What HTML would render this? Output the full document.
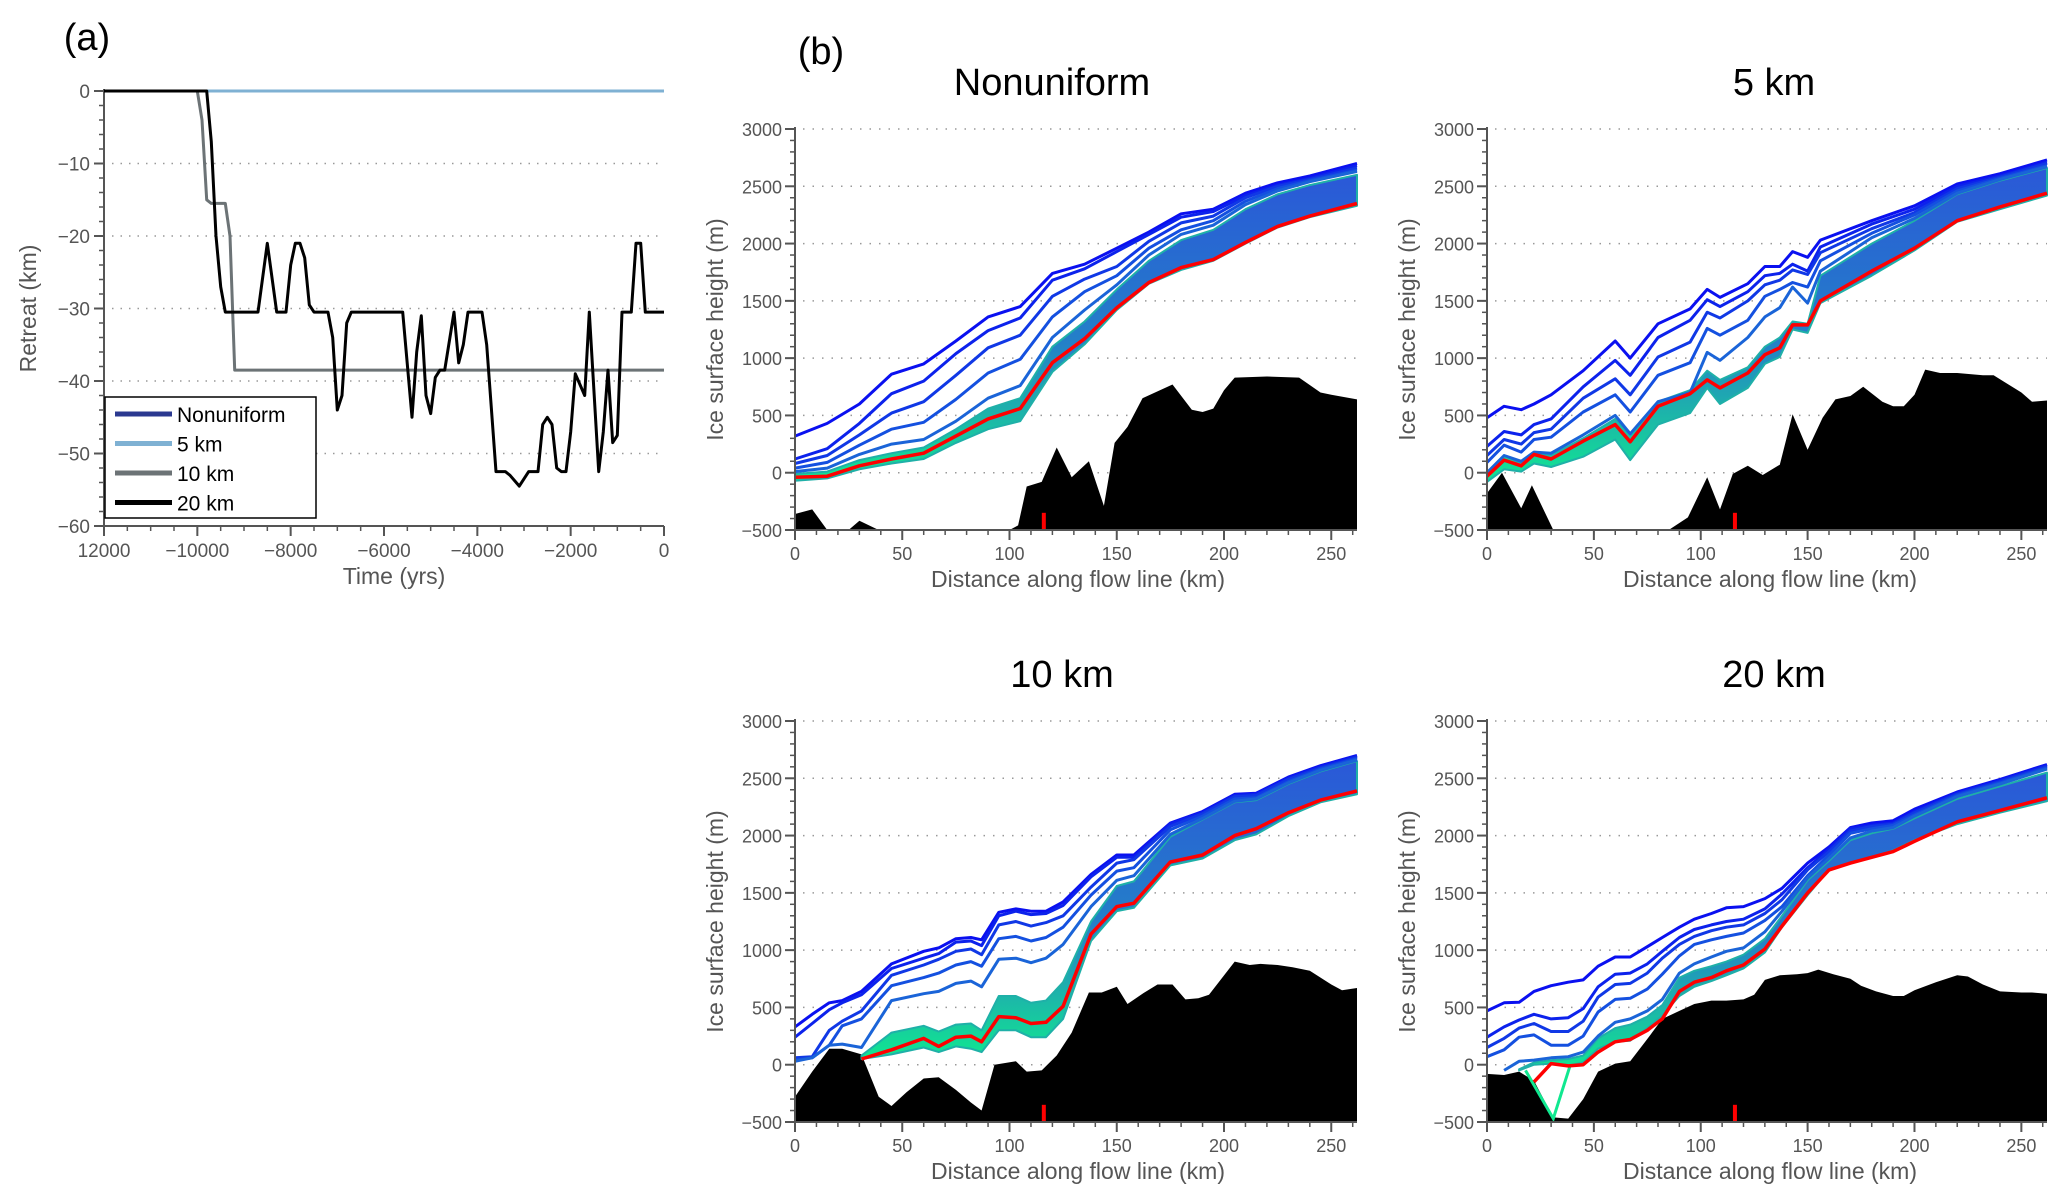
<!DOCTYPE html>
<html><head><meta charset="utf-8">
<style>
html,body{margin:0;padding:0;background:#fff;}
svg{display:block;font-family:"Liberation Sans",Arial,sans-serif;}
</style></head>
<body>
<svg id="fig" width="2067" height="1204" viewBox="0 0 2067 1204" xmlns="http://www.w3.org/2000/svg">
<defs>
<linearGradient id="bandGrad" x1="0" y1="0" x2="0" y2="1">
<stop offset="0" stop-color="#2a58d8"/><stop offset="0.55" stop-color="#2480c8"/><stop offset="0.8" stop-color="#1cb8a8"/><stop offset="1" stop-color="#10e890"/>
</linearGradient>
</defs>
<text x="87" y="50" font-size="38" text-anchor="middle">(a)</text>
<text x="821" y="64" font-size="38" text-anchor="middle">(b)</text>
</svg>
<script>
// ---------- Panel (a) data ----------
const retreatTime20 = [-12000,-9800,-9700,-9600,-9500,-9400,-8700,-8500,-8300,-8100,-8000,-7900,-7800,-7700,-7600,-7500,-7200,-7100,-7000,-6900,-6800,-6700,-5600,-5400,-5300,-5200,-5100,-5000,-4900,-4800,-4700,-4500,-4400,-4300,-4200,-3900,-3800,-3600,-3400,-3300,-3100,-2900,-2700,-2600,-2500,-2400,-2300,-2200,-2100,-2000,-1900,-1700,-1600,-1400,-1300,-1200,-1100,-1000,-900,-700,-600,-500,-400,0];
const retreat20 = [0,0,-7,-20,-27,-30.5,-30.5,-21,-30.5,-30.5,-24,-21,-21,-23,-29.5,-30.5,-30.5,-34,-44,-42,-32,-30.5,-30.5,-45,-36,-31,-42,-44.5,-39.5,-38.5,-38.5,-30.5,-37.5,-35,-30.5,-30.5,-35,-52.5,-52.5,-53,-54.5,-52.5,-52.5,-46,-45,-46,-52,-52.5,-52.5,-47,-39,-42,-30.5,-52.5,-47,-38.5,-48.5,-47.5,-30.5,-30.5,-21,-21,-30.5,-30.5];
const retreatTime10 = [-12000,-10000,-9900,-9800,-9700,-9400,-9300,-9200,0];
const retreat10 = [0,0,-4,-15,-15.5,-15.5,-20,-38.5,-38.5];
const retreatTime5 = [-12000,0];
const retreat5 = [0,0];
const retreatTimeNU = [-12000,0];
const retreatNU = [0,0];
const timeTicks = [-12000,-10000,-8000,-6000,-4000,-2000,0];
const timeTickLabels = ["12000","\u221210000","\u22128000","\u22126000","\u22124000","\u22122000","0"];
const retreatTicks = [0,-10,-20,-30,-40,-50,-60];
const retreatTickLabels = ["0","\u221210","\u221220","\u221230","\u221240","\u221250","\u221260"];
const legendLabels = ["Nonuniform","5 km","10 km","20 km"];

// ---------- Panel (b) data ----------
const heightTicks = [3000,2500,2000,1500,1000,500,0,-500];
const heightTickLabels = ["3000","2500","2000","1500","1000","500","0","\u2212500"];
const distTicks = [0,50,100,150,200,250];
const distTickLabels = ["0","50","100","150","200","250"];
const groundingMarkKm = 116;

// Nonuniform
const nuX = [0,15,30,45,60,75,90,105,120,135,150,165,180,195,210,225,240,262];
const nuL1 = [320,430,600,860,950,1150,1360,1450,1740,1820,1960,2100,2260,2300,2440,2530,2590,2700];
const nuL2 = [120,210,430,690,800,1040,1240,1350,1680,1780,1930,2080,2230,2280,2420,2510,2570,2680];
const nuL3 = [80,150,330,520,620,850,1090,1200,1540,1690,1800,2020,2180,2240,2400,2500,2560,2660];
const nuL4 = [40,90,240,380,440,640,870,990,1360,1580,1720,1960,2120,2200,2370,2480,2550,2640];
const nuL5 = [10,40,160,250,290,450,650,760,1180,1420,1640,1900,2080,2160,2340,2460,2540,2630];
const nuBandTop = [-10,10,110,170,220,380,560,650,1100,1320,1600,1850,2030,2120,2300,2430,2510,2600];
const nuBandBot = [-70,-50,30,80,120,260,380,450,880,1120,1420,1650,1770,1850,2000,2140,2230,2330];
const nuRed = [-40,-30,60,120,170,320,470,560,960,1170,1440,1660,1790,1860,2010,2150,2240,2350];
const nuBedX = [0,8,15,25,30,39,100,104,108,115,122,129,137,144,149,155,162,176,185,190,195,200,205,220,235,245,250,262];
const nuBedY = [-360,-320,-500,-500,-420,-500,-500,-460,-120,-80,220,-40,100,-290,260,400,650,770,550,530,560,720,830,840,830,700,680,640];

// 5 km
const k5X = [0,8,16,22,30,45,60,67,80,95,103,109,122,130,137,143,150,156,180,200,220,240,262];
const k5L1 = [480,580,550,600,680,890,1150,1000,1300,1430,1600,1530,1650,1800,1800,1930,1880,2030,2200,2330,2520,2610,2730];
const k5L2 = [230,360,330,420,470,750,980,850,1180,1330,1510,1450,1580,1720,1740,1820,1760,1970,2170,2300,2500,2590,2710];
const k5L3 = [150,290,250,350,380,650,820,680,1010,1140,1400,1350,1500,1640,1680,1770,1730,1920,2130,2270,2480,2580,2700];
const k5L4 = [90,240,180,290,310,530,680,530,850,960,1260,1200,1330,1540,1600,1660,1620,1850,2090,2250,2460,2570,2680];
const k5L5 = [0,150,100,180,170,330,500,340,620,700,1050,980,1180,1360,1440,1620,1480,1760,2050,2220,2440,2560,2670];
const k5BandTop = [-10,150,80,170,150,300,470,330,620,720,890,810,920,1100,1180,1320,1300,1720,2000,2200,2430,2550,2660];
const k5BandBot = [-80,30,10,80,50,140,290,110,420,520,740,600,740,950,1010,1250,1220,1480,1720,1940,2190,2300,2420];
const k5Red = [-30,110,60,160,120,276,420,270,580,690,810,740,870,1030,1090,1290,1290,1500,1760,1960,2200,2320,2440];
const k5BedX = [0,7,16,21,31,85,94,103,109,115,122,129,137,143,150,157,163,170,176,185,190,195,200,205,212,220,232,237,250,255,262];
const k5BedY = [-180,0,-310,-110,-500,-500,-390,-40,-320,-10,60,-20,70,510,200,480,640,670,750,620,580,580,680,900,870,870,850,850,700,620,630];

// 10 km
const k10X = [0,8,16,22,31,45,60,67,75,82,87,95,103,110,117,125,138,150,158,175,190,205,215,230,245,262];
const k10L1 = [330,440,540,560,640,880,990,1020,1100,1110,1090,1330,1360,1340,1340,1420,1660,1830,1830,2110,2210,2360,2370,2510,2610,2700];
const k10L2 = [240,360,480,540,610,840,930,970,1070,1080,1040,1300,1340,1310,1320,1390,1640,1810,1810,2100,2200,2350,2360,2500,2600,2690];
const k10L3 = [60,70,300,380,470,780,870,920,990,1010,960,1220,1250,1210,1240,1300,1550,1760,1790,2080,2190,2340,2350,2490,2590,2680];
const k10L4 = [40,60,170,340,400,690,760,800,870,900,860,1100,1120,1080,1110,1200,1480,1690,1720,2050,2170,2320,2330,2470,2580,2670];
const k10L5 = [30,60,170,180,150,560,620,640,710,730,680,920,930,890,930,1050,1380,1610,1650,2010,2150,2300,2320,2460,2570,2660];
const k10BandTop = [null,null,null,null,80,280,340,290,350,360,300,600,600,540,560,720,1250,1560,1600,1990,2140,2290,2310,2450,2560,2650];
const k10BandBot = [null,null,null,null,50,90,150,110,160,140,110,300,300,240,240,400,1080,1340,1370,1740,1800,1960,2010,2170,2290,2360];
const k10Red = [null,null,null,null,50,130,230,160,240,250,200,420,410,360,370,510,1140,1380,1410,1770,1830,2000,2060,2200,2310,2390];
const k10BedX = [0,8,16,22,31,39,45,52,60,67,75,82,87,93,103,108,115,122,129,137,143,150,155,162,169,176,182,188,193,205,212,217,225,232,240,250,255,262];
const k10BedY = [-280,-60,140,140,90,-280,-360,-240,-120,-110,-220,-330,-400,0,30,-60,-50,80,280,630,630,680,530,620,700,700,570,580,610,900,870,880,870,850,820,700,650,670];

// 20 km
const k20X = [0,8,15,22,30,38,45,52,60,67,75,82,90,97,105,112,120,130,138,150,160,170,180,190,200,220,240,262];
const k20L1 = [470,540,545,640,690,720,740,860,940,940,1030,1110,1200,1270,1320,1370,1380,1450,1540,1760,1900,2070,2110,2130,2230,2380,2490,2620];
const k20L2 = [240,330,390,440,400,410,490,680,790,800,880,990,1110,1180,1220,1250,1270,1360,1490,1720,1880,2060,2090,2110,2210,2370,2480,2610];
const k20L3 = [150,230,320,360,290,290,380,590,700,710,800,930,1050,1120,1170,1200,1220,1320,1440,1700,1860,2040,2080,2100,2200,2360,2470,2600];
const k20L4 = [70,130,240,260,170,170,250,460,570,580,660,790,950,1050,1090,1120,1150,1260,1380,1650,1830,2020,2060,2090,2180,2350,2460,2590];
const k20L5 = [null,-50,30,40,60,70,110,250,370,400,470,570,800,880,940,990,1020,1160,1340,1630,1800,1980,2040,2070,2170,2340,2450,2580];
const k20BandTop = [null,null,-40,20,40,50,80,230,320,350,420,520,760,820,860,900,960,1100,1300,1610,1780,1960,2020,2060,2150,2320,2430,2550];
const k20BandBot = [null,null,-50,0,10,-10,20,140,200,210,320,430,600,680,730,780,840,980,1200,1480,1700,1760,1810,1870,1960,2100,2200,2300];
const k20Red = [null,null,null,-150,10,-10,0,110,200,220,300,400,640,720,760,820,870,1010,1210,1500,1700,1760,1810,1860,1950,2120,2220,2330];
const k20DipX = [18,31,39];
const k20DipY = [-50,-470,0];
const k20BedX = [0,8,15,22,31,38,45,52,60,67,74,82,90,97,105,112,120,125,130,137,145,150,155,162,170,175,182,190,195,200,210,220,225,232,240,250,255,262];
const k20BedY = [-80,-90,-60,-140,-460,-470,-300,-60,10,30,200,400,470,530,560,560,570,610,740,780,790,800,830,790,750,690,640,600,600,650,720,780,770,700,640,630,630,620];

// ---------- drawing ----------
const NS = "http://www.w3.org/2000/svg";
const svg = document.getElementById('fig');
function mk(tag, attrs, parent){
  const e = document.createElementNS(NS, tag);
  for (const k in attrs) e.setAttribute(k, attrs[k]);
  (parent||svg).appendChild(e);
  return e;
}
function txt(x,y,s,size,anchor,fill,parent){
  const t = mk('text',{x:x,y:y,'font-size':size,'text-anchor':anchor||'middle',fill:fill||'#555'},parent);
  t.textContent = s;
  return t;
}
function pathFrom(xs, ys, sx, sy){
  let d=''; let pen=false;
  for(let i=0;i<xs.length;i++){
    if(ys[i]===null||ys[i]===undefined){pen=false;continue;}
    d += (pen?'L':'M') + sx(xs[i]).toFixed(1)+','+sy(ys[i]).toFixed(1);
    pen=true;
  }
  return d;
}

// Panel a
(function(){
  const L=104,R=664,T=91,B=526;
  const sx = t => L + (t+12000)/12000*(R-L);
  const sy = v => T + (0-v)/60*(B-T);
  const g = mk('g',{});
  
  
  retreatTicks.forEach((v,i)=>{
    if(v!==0 && v!==-60){
      const gl = mk('line',{x1:L+8,x2:R,y1:sy(v),y2:sy(v),stroke:'#999','stroke-width':1.5,'stroke-dasharray':'1.5 7'},g);
      
      
    }
    mk('line',{x1:L-10,x2:L,y1:sy(v),y2:sy(v),stroke:'#555','stroke-width':2},g);
    const t = txt(L-14,sy(v)+7,retreatTickLabels[i],19,'end','#555',g);
    
    
  });
  for(let v=0; v>=-60; v-=2){ mk('line',{x1:L-5,x2:L,y1:sy(v),y2:sy(v),stroke:'#555','stroke-width':1.5},g); }
  timeTicks.forEach((t,i)=>{
    mk('line',{x1:sx(t),x2:sx(t),y1:B,y2:B+10,stroke:'#555','stroke-width':2},g);
    const tl = txt(sx(t),B+31,timeTickLabels[i],19,'middle','#555',g);
    
    
  });
  for(let t=-12000;t<=0;t+=500){ mk('line',{x1:sx(t),x2:sx(t),y1:B,y2:B+5,stroke:'#555','stroke-width':1.5},g); }
  const ax = mk('path',{d:`M${L},${T-2}L${L},${B}L${R},${B}`,fill:'none',stroke:'#555','stroke-width':2},g);
  
  
  const xt = txt((L+R)/2+10,B+58,'Time (yrs)',23,'middle','#555',g);
  
  
  const yt = txt(0,0,'Retreat (km)',23,'middle','#555',g);
  yt.setAttribute('transform',`translate(36,${(T+B)/2}) rotate(-90)`);
  
  
  const series = [
    [retreatTimeNU,retreatNU,'#2b3990','series-nonuniform'],
    [retreatTime5,retreat5,'#7fb1d3','series-5km'],
    [retreatTime10,retreat10,'#6c7376','series-10km'],
    [retreatTime20,retreat20,'#000','series-20km']];
  series.forEach(s=>{
    const p = mk('path',{d:pathFrom(s[0],s[1],sx,sy),fill:'none',stroke:s[2],'stroke-width':3,'stroke-linejoin':'round'},g);
    
    
  });
  const lg = mk('g',{},g);
  
  
  mk('rect',{x:105,y:397,width:211,height:121,fill:'#fff',stroke:'#000','stroke-width':1.5},lg);
  const cols = ['#2b3990','#7fb1d3','#6c7376','#000'];
  legendLabels.forEach((s,i)=>{
    const y = 414 + i*29.5;
    mk('line',{x1:115,x2:172,y1:y,y2:y,stroke:cols[i],'stroke-width':5},lg);
    const t = txt(177,y+8,s,21,'start','#000',lg);
    
    
  });
})();

// Panel b
function drawProfile(cfg){
  const L=cfg.L,R=cfg.R,T=cfg.T,B=cfg.B;
  const sx = k => L + k/262*(R-L);
  const sy = v => T + (3000-v)/3500*(B-T);
  const g = mk('g',{});
  
  
  const ti = txt(cfg.titleX,T-34,cfg.title,38,'middle','#000',g);
  
  
  heightTicks.forEach((v,i)=>{
    if(v!==-500){
      const gl = mk('line',{x1:L+8,x2:R,y1:sy(v),y2:sy(v),stroke:'#999','stroke-width':1.5,'stroke-dasharray':'1.5 8'},g);
      
      
    }
    mk('line',{x1:L-10,x2:L,y1:sy(v),y2:sy(v),stroke:'#555','stroke-width':2},g);
    const t = txt(L-13,sy(v)+7,heightTickLabels[i],18,'end','#555',g);
    
    
  });
  for(let v=-500;v<=3000;v+=100){ mk('line',{x1:L-5,x2:L,y1:sy(v),y2:sy(v),stroke:'#555','stroke-width':1.5},g); }
  distTicks.forEach((k,i)=>{
    mk('line',{x1:sx(k),x2:sx(k),y1:B,y2:B+10,stroke:'#555','stroke-width':2},g);
    const t = txt(sx(k),B+30,distTickLabels[i],18,'middle','#555',g);
    
    
  });
  for(let k=0;k<=260;k+=10){ mk('line',{x1:sx(k),x2:sx(k),y1:B,y2:B+5,stroke:'#555','stroke-width':1.5},g); }
  // bed
  let d = `M${sx(cfg.bedX[0])},${sy(-500)}` + pathFrom(cfg.bedX,cfg.bedY,sx,sy).replace(/^M/,'L') + `L${sx(cfg.bedX[cfg.bedX.length-1])},${sy(-500)}Z`;
  const bed = mk('path',{d:d,fill:'#000'},g);
  
  
  // band
  const idx = cfg.xs.map((_,i)=>i).filter(i=>cfg.bandTop[i]!==null && cfg.bandBot[i]!==null);
  let bd = '';
  idx.forEach((i,j)=>{ bd += (j?'L':'M')+sx(cfg.xs[i]).toFixed(1)+','+sy(cfg.bandTop[i]).toFixed(1); });
  idx.slice().reverse().forEach(i=>{ bd += 'L'+sx(cfg.xs[i]).toFixed(1)+','+sy(cfg.bandBot[i]).toFixed(1); });
  bd += 'Z';
  const band = mk('path',{d:bd,fill:'url(#bandGrad)',stroke:'#1fb0a8','stroke-width':2,'stroke-linejoin':'round'},g);
  
  
  if(cfg.dipX){
    const dp = mk('path',{d:pathFrom(cfg.dipX,cfg.dipY,sx,sy),fill:'none',stroke:'#10e890','stroke-width':3},g);
    
    
  }
  const cols = ['#0a10f0','#0c22ec','#1038e6','#1450e0','#1a64d8'];
  cfg.lines.forEach((ys,i)=>{
    const p = mk('path',{d:pathFrom(cfg.xs,ys,sx,sy),fill:'none',stroke:cols[i],'stroke-width':3,'stroke-linejoin':'round'},g);
    
    
  });
  const red = mk('path',{d:pathFrom(cfg.xs,cfg.red,sx,sy),fill:'none',stroke:'#f00','stroke-width':3.5,'stroke-linejoin':'round'},g);
  
  
  const gm = mk('line',{x1:sx(groundingMarkKm),x2:sx(groundingMarkKm),y1:sy(-500),y2:sy(-350),stroke:'#f00','stroke-width':4},g);
  
  
  const ax = mk('path',{d:`M${L},${T-2}L${L},${B}L${R},${B}`,fill:'none',stroke:'#555','stroke-width':2},g);
  
  
  const xt = txt(L+283,B+57,'Distance along flow line (km)',23,'middle','#555',g);
  
  
  const yt = txt(0,0,'Ice surface height (m)',23,'middle','#555',g);
  yt.setAttribute('transform',`translate(${L-72},${(T+B)/2}) rotate(-90)`);
  
  
}
drawProfile({name:'panel-nonuniform',title:'Nonuniform',titleX:1052,L:795,R:1357,T:129,B:530,xs:nuX,lines:[nuL1,nuL2,nuL3,nuL4,nuL5],bandTop:nuBandTop,bandBot:nuBandBot,red:nuRed,bedX:nuBedX,bedY:nuBedY});
drawProfile({name:'panel-5km',title:'5 km',titleX:1774,L:1487,R:2047,T:129,B:530,xs:k5X,lines:[k5L1,k5L2,k5L3,k5L4,k5L5],bandTop:k5BandTop,bandBot:k5BandBot,red:k5Red,bedX:k5BedX,bedY:k5BedY});
drawProfile({name:'panel-10km',title:'10 km',titleX:1062,L:795,R:1357,T:721,B:1122,xs:k10X,lines:[k10L1,k10L2,k10L3,k10L4,k10L5],bandTop:k10BandTop,bandBot:k10BandBot,red:k10Red,bedX:k10BedX,bedY:k10BedY});
drawProfile({name:'panel-20km',title:'20 km',titleX:1774,L:1487,R:2047,T:721,B:1122,xs:k20X,lines:[k20L1,k20L2,k20L3,k20L4,k20L5],bandTop:k20BandTop,bandBot:k20BandBot,red:k20Red,bedX:k20BedX,bedY:k20BedY,dipX:k20DipX,dipY:k20DipY});
</script>
</body></html>
